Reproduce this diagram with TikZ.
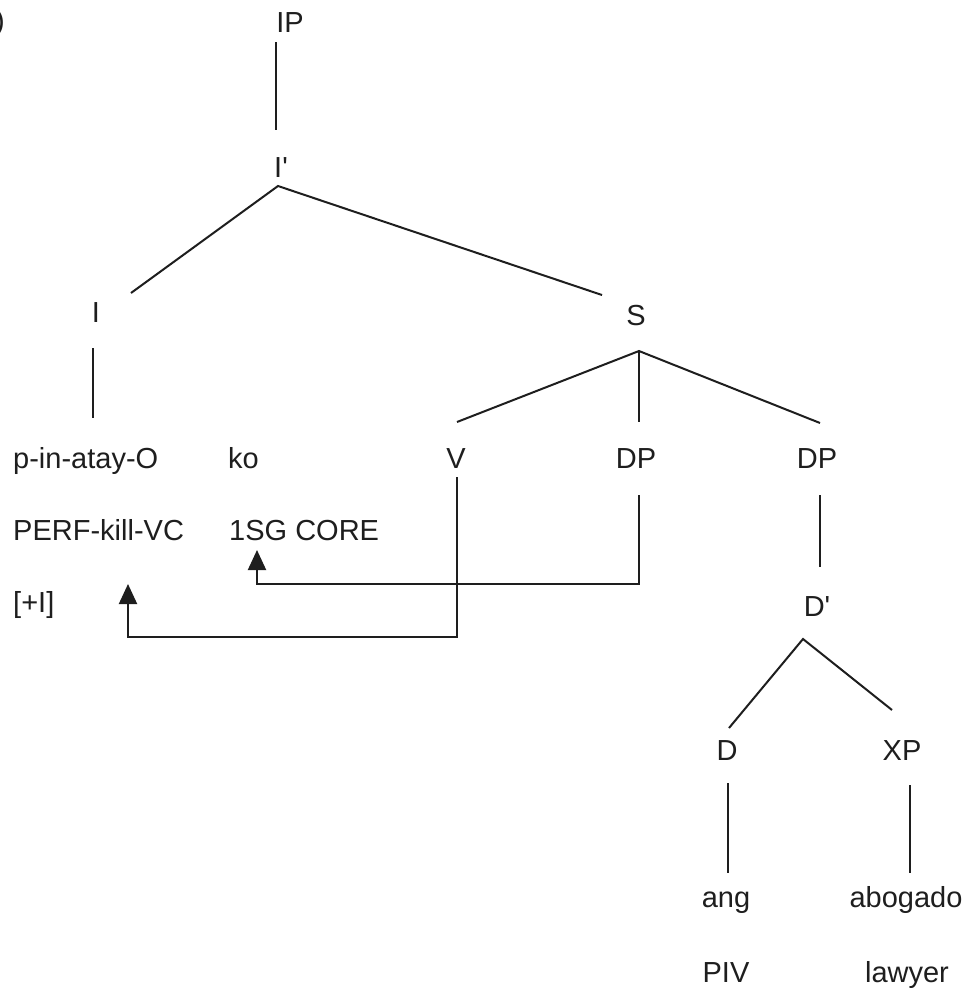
\documentclass[tikz,border=0pt]{standalone}
\usepackage{fontspec}
\setmainfont{Liberation Sans}[Ligatures=TeXOff]
\usetikzlibrary{calc,arrows.meta}
\definecolor{ink}{HTML}{1E1E1E}
\tikzset{
  lbl/.style={inner sep=0pt, anchor=base, text=ink, font=\fontsize{29}{34}\selectfont},
  lbll/.style={lbl, anchor=base west},
  edge/.style={draw=ink, line width=2pt},
  mv/.style={edge, -{Triangle[width=18pt,length=20pt]}}
}
\begin{document}
\begin{tikzpicture}[x=1pt,y=-1pt]
\useasboundingbox (0,0) rectangle (972,989);
\clip (0,0) rectangle (972,989);
% fragment of a label cut by the left edge
\node[lbl, anchor=base east] (lab) at (5,30) {b)};
% tree labels
\node[lbl] (IP) at (290,32) {IP};
\node[lbl] (Ibar) at (281,177) {I'};
\node[lbl] (I) at (96,322) {I};
\node[lbl] (S) at (636,325) {S};
\node[lbll] (pin) at (13,468) {p-in-atay-O};
\node[lbll] (ko) at (228,468) {ko};
\node[lbl] (V) at (456,468) {V};
\node[lbl] (DP1) at (636,468) {DP};
\node[lbl] (DP2) at (817,468) {DP};
\node[lbll] (perf) at (13,540) {PERF-kill-VC};
\node[lbll] (sg) at (229,540) {1SG CORE};
\node[lbll] (plusI) at (13,612) {[+I]};
\node[lbl] (Dbar) at (817,616) {D'};
\node[lbl] (D) at (727,760) {D};
\node[lbl] (XP) at (902,760) {XP};
\node[lbl] (ang) at (726,907) {ang};
\node[lbl] (abogado) at (906,907) {abogado};
\node[lbl] (PIV) at (726,982) {PIV};
\node[lbl] (lawyer) at (907,982) {lawyer};
% branches
\draw[edge] ($(IP.base)+(-14,10)$) -- ($(Ibar.base)+(-5,-47)$);
\draw[edge] ($(I.base)+(35,-29)$) -- ($(Ibar.base)+(-3,9)$) -- ($(S.base)+(-34,-30)$);
\draw[edge] ($(I.base)+(-3,26)$) -- ($(pin.base west)+(80,-50)$);
\draw[edge] ($(V.base)+(1,-46)$) -- ($(S.base)+(3,26)$) -- ($(DP2.base)+(3,-45)$);
\draw[edge] ($(S.base)+(3,26)$) -- ($(DP1.base)+(3,-46)$);
\draw[edge] ($(DP2.base)+(3,27)$) -- ($(Dbar.base)+(3,-49)$);
\draw[edge] ($(D.base)+(2,-32)$) -- ($(Dbar.base)+(-14,23)$) -- ($(XP.base)+(-10,-50)$);
\draw[edge] ($(D.base)+(1,23)$) -- ($(ang.base)+(2,-34)$);
\draw[edge] ($(XP.base)+(8,25)$) -- ($(abogado.base)+(4,-34)$);
% movement arrows
\draw[mv] ($(V.base)+(1,9)$) |- ($(perf.base west)+(115,97)$) -- ($(perf.base west)+(115,44)$);
\draw[mv] ($(DP1.base)+(3,27)$) |- ($(sg.base west)+(28,44)$) -- ($(sg.base west)+(28,10)$);
\end{tikzpicture}
\end{document}
